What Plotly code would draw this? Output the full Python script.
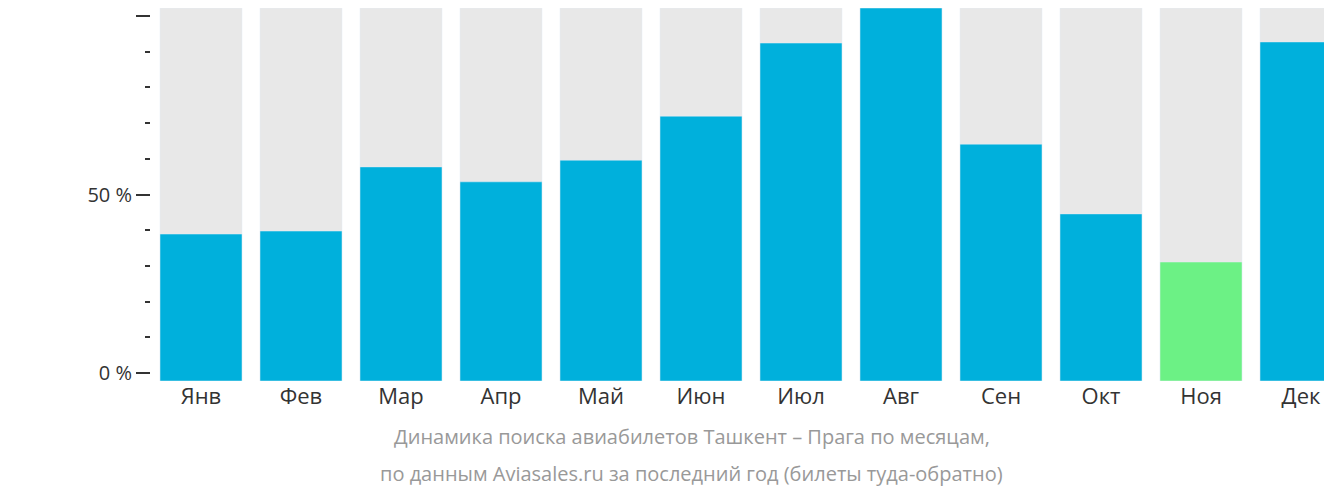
import plotly.graph_objects as go

months = ["Янв", "Фев", "Мар", "Апр", "Май", "Июн", "Июл", "Авг", "Сен", "Окт", "Ноя", "Дек"]
values = [39.4, 40.2, 57.4, 53.4, 59.2, 71.0, 90.6, 100, 63.5, 44.8, 31.9, 90.9]
colors = ["#00b0dc"] * 10 + ["#6cf185", "#00b0dc"]
tick_labels = ["0 %", "50 %", "100 %"]

# the axis ticks sit slightly inside the bar area
y0 = 2.14
step = 9.57

fig = go.Figure()
fig.add_trace(go.Bar(x=months, y=[100] * len(months), marker_color="#e8e8e8",
                     hoverinfo="skip", showlegend=False))
fig.add_trace(go.Bar(x=months, y=values, marker_color=colors, showlegend=False))

fig.update_layout(
    width=1332, height=502,
    barmode="overlay", bargap=0.18,
    margin=dict(l=143, r=0, t=0, b=129),
    paper_bgcolor="white", plot_bgcolor="white",
    font=dict(family="Open Sans", size=22, color="#333"),
)
fig.update_xaxes(range=[-0.5, 11.39], showline=False, ticks="", showgrid=False,
                 tickfont=dict(size=22))
fig.update_yaxes(range=[0, 100], showgrid=False, zeroline=False,
                 tickvals=[y0, y0 + 5 * step, y0 + 10 * step], ticktext=tick_labels,
                 ticks="outside", ticklen=14, tickwidth=2, tickcolor="#333",
                 tickfont=dict(size=20),
                 minor=dict(tick0=y0, dtick=step, ticks="outside", ticklen=5,
                            tickwidth=2, tickcolor="#333"))
for txt, yy in [("Динамика поиска авиабилетов Ташкент – Прага по месяцам,", -0.19),
                ("по данным Aviasales.ru за последний год (билеты туда-обратно)", -0.29)]:
    fig.add_annotation(text=txt, xref="paper", yref="paper", x=0.455, y=yy,
                       showarrow=False, font=dict(size=20, color="#999"))

fig.write_html("out.html")
